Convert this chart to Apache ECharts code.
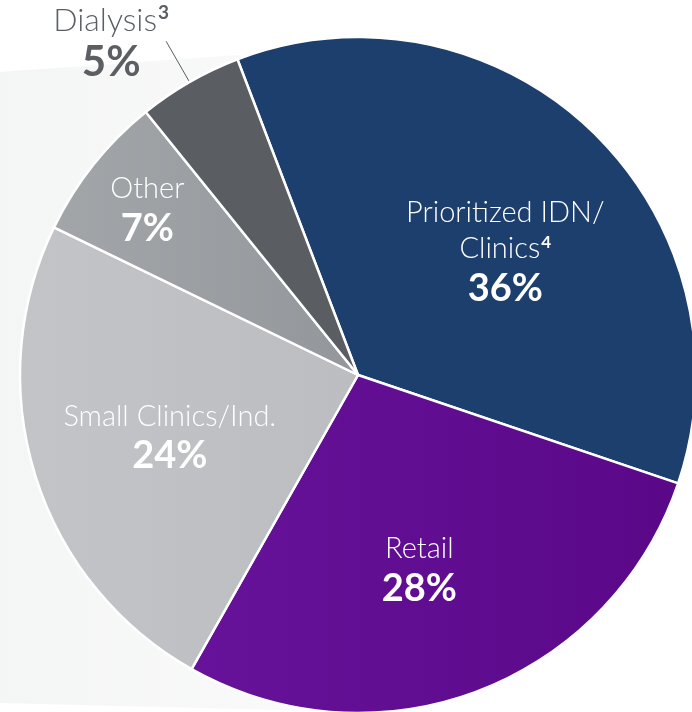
<!DOCTYPE html>
<html>
<head>
<meta charset="utf-8">
<script src="https://cdn.jsdelivr.net/npm/echarts@6/dist/echarts.min.js"></script>
<style>
  html, body { margin: 0; padding: 0; background: #fff; }
  #chart { width: 692px; height: 712px; }
</style>
</head>
<body>
<div id="chart"></div>
<script>
// segment shares, in drawing order (clockwise from the Prioritized slice)
var segmentNames = ['Prioritized IDN/\nClinics', 'Retail', 'Small Clinics/Ind.', 'Other', 'Dialysis'];
var segmentNotes = ['4', '', '', '', '3'];
var segmentValues = [36, 28, 24, 7, 5];

var grad = function (a, b) {
  return new echarts.graphic.LinearGradient(0, 0, 1, 0, [
    { offset: 0, color: a },
    { offset: 1, color: b }
  ]);
};

var sliceColors = [
  '#1c3f6e',
  grad('#66129a', '#5a0888'),
  grad('#c3c4c7', '#bcbdc0'),
  grad('#a3a6a9', '#93979b'),
  '#5a5d62'
];

// where each inside label sits, nudged from the default mid-radius spot
var labelNudge = [[28, 2], [0, 35], [-24, 12], [-76, -57], [0, 0]];

var fontFam = 'Lato, "Noto Sans", sans-serif';

var data = segmentNames.map(function (name, i) {
  var isOut = i === 4;
  return {
    name: name,
    value: segmentValues[i],
    itemStyle: { color: sliceColors[i] },
    label: isOut ? {
      position: 'outside',
      color: '#5b5e63',
      distanceToLabelLine: -3
    } : {
      position: 'inner',
      offset: labelNudge[i]
    },
    labelLine: isOut ? {
      show: true,
      length: 47,
      length2: 0,
      lineStyle: { color: '#5b5e63', width: 1 }
    } : { show: false }
  };
});

var chart = echarts.init(document.getElementById('chart'));

chart.setOption({
  animation: false,
  graphic: [{
    type: 'polygon',
    z: -10,
    shape: {
      points: [[0, 72], [238, 55], [360, 80], [360, 712], [0, 703]]
    },
    style: {
      fill: new echarts.graphic.LinearGradient(0, 0, 1, 0, [
        { offset: 0, color: '#f4f5f5' },
        { offset: 1, color: '#fbfbfb' }
      ])
    }
  }],
  series: [{
    type: 'pie',
    center: [358, 375],
    radius: 338,
    startAngle: 110.9,
    clockwise: true,
    avoidLabelOverlap: false,
    itemStyle: {
      borderColor: '#ffffff',
      borderWidth: 2.5
    },
    label: {
      show: true,
      color: '#ffffff',
      fontFamily: fontFam,
      formatter: function (p) {
        var i = p.dataIndex;
        var big = i === 4 ? 'o' : '';
        var lines = segmentNames[i].split('\n');
        var out = lines.map(function (l, k) {
          var s = '{n' + big + '|' + l + '}';
          if (k === lines.length - 1 && segmentNotes[i]) {
            s += '{s' + big + '|' + segmentNotes[i] + '}';
          }
          return s;
        });
        out.push('{p' + big + '|' + segmentValues[i] + '%}');
        return out.join('\n');
      },
      rich: {
        n: { fontSize: 29, fontWeight: 300, fontFamily: fontFam, lineHeight: 36, align: 'center' },
        s: { fontSize: 17, fontWeight: 'bold', fontFamily: fontFam, lineHeight: 36, padding: [0, 0, 13, 1] },
        p: { fontSize: 38, fontWeight: 'bold', fontFamily: fontFam, lineHeight: 44, align: 'center' },
        no: { fontSize: 32, fontWeight: 300, fontFamily: fontFam, lineHeight: 42, align: 'center' },
        so: { fontSize: 19, fontWeight: 'bold', fontFamily: fontFam, lineHeight: 42, padding: [0, 0, 14, 1] },
        po: { fontSize: 42, fontWeight: 'bold', fontFamily: fontFam, lineHeight: 42, align: 'center' }
      }
    },
    data: data
  }]
});
</script>
</body>
</html>
